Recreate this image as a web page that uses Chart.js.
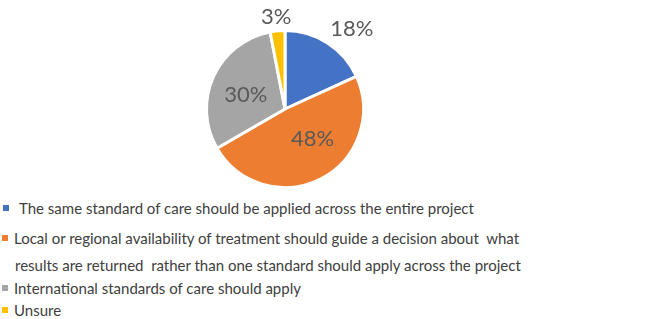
<!DOCTYPE html>
<html>
  <head>
    <title>Standard of care</title>
    <script src="https://cdn.jsdelivr.net/npm/chart.js"></script>
    <style>
      body,
      html {
        margin: 0;
        width: 646px;
        height: 319px;
        overflow: hidden;
        background-color: white;
      }
      #wrap {
        position: absolute;
        left: 0;
        top: 0;
        width: 646px;
        height: 195px;
      }
      .item {
        position: absolute;
        font-family: Lato, sans-serif;
        font-size: 15px;
        color: #404040;
        white-space: pre;
        line-height: 20px;
      }
      .box {
        position: absolute;
        width: 6px;
        height: 6px;
      }
    </style>
  </head>
  <body>
    <div id="wrap">
      <canvas id="chartCanvas"></canvas>
    </div>
    <div id="legend"></div>
    <script>
      const labels = [
        ["The same standard of care should be applied across the entire project"],
        [
          "Local or regional availability of treatment should guide a decision about  what",
          "results are returned  rather than one standard should apply across the project",
        ],
        ["International standards of care should apply"],
        ["Unsure"],
      ];
      const values = [18, 48, 30, 3];
      const colors = ["#4472C4", "#ED7D31", "#A5A5A5", "#FFC000"];

      // label distance from centre (share of radius) and turn off the bisector (degrees)
      const labelAt = [1.33, 0.52, 0.53, 1.18];
      const labelTurn = [7, -15, -5, 0];

      const pctLabels = {
        id: "pctLabels",
        afterDatasetsDraw(chart) {
          const ctx = chart.ctx;
          const meta = chart.getDatasetMeta(0);
          ctx.save();
          ctx.font = "22px Lato, sans-serif";
          ctx.fillStyle = "#595959";
          ctx.textAlign = "center";
          ctx.textBaseline = "middle";
          meta.data.forEach((arc, i) => {
            const p = arc.getProps(["x", "y", "startAngle", "endAngle", "outerRadius"], true);
            const a = (p.startAngle + p.endAngle) / 2 + (labelTurn[i] * Math.PI) / 180;
            const r = p.outerRadius * labelAt[i];
            ctx.fillText(values[i] + "%", p.x + Math.cos(a) * r, p.y + Math.sin(a) * r);
          });
          ctx.restore();
        },
      };

      new Chart(document.getElementById("chartCanvas"), {
        type: "pie",
        data: {
          labels: labels.map((l) => l.join(" ")),
          datasets: [
            {
              data: values,
              backgroundColor: colors,
              borderColor: "#ffffff",
              borderWidth: 3,
            },
          ],
        },
        options: {
          responsive: true,
          maintainAspectRatio: false,
          animation: false,
          layout: { padding: { top: 29, bottom: 6, left: 0, right: 76 } },
          plugins: {
            legend: { display: false },
            tooltip: { enabled: false },
          },
        },
        plugins: [pctLabels],
      });

      // legend below the pie
      const legend = document.getElementById("legend");
      const rows = [
        { y: 208, x: 19, bx: 3 },
        { y: 238, x: 14, bx: 2, y2: 265, x2: 15 },
        { y: 288, x: 14, bx: 2 },
        { y: 310, x: 14, bx: 2 },
      ];
      labels.forEach((lines, i) => {
        const r = rows[i];
        const box = document.createElement("div");
        box.className = "box";
        box.style.background = colors[i];
        box.style.left = r.bx + "px";
        box.style.top = r.y - 3 + "px";
        legend.appendChild(box);
        lines.forEach((t, j) => {
          const d = document.createElement("div");
          d.className = "item";
          d.textContent = t;
          d.style.left = (j ? r.x2 : r.x) + "px";
          d.style.top = (j ? r.y2 : r.y) - 10 + "px";
          legend.appendChild(d);
        });
      });
    </script>
  </body>
</html>
